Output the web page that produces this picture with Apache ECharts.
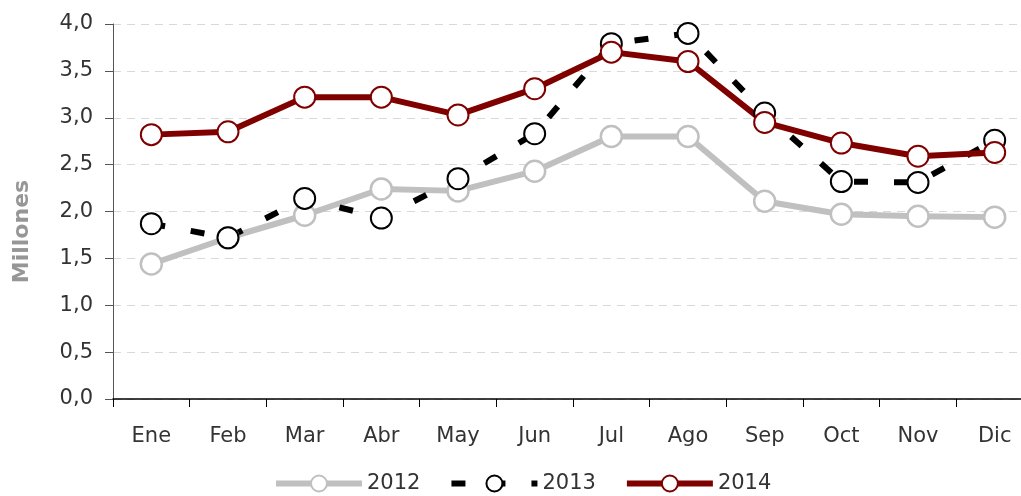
<!DOCTYPE html>
<html>
<head>
<meta charset="utf-8">
<script src="https://cdn.jsdelivr.net/npm/echarts@6/dist/echarts.min.js"></script>
<style>
  html, body { margin: 0; padding: 0; background: #fff; }
  #chart { width: 1021px; height: 496px; }
</style>
</head>
<body>
<div id="chart"></div>
<script>
// months (Spanish)
const months = ["Ene", "Feb", "Mar", "Abr", "May", "Jun", "Jul", "Ago", "Sep", "Oct", "Nov", "Dic"];

// values in millions
const v2012 = [1.44, 1.72, 1.96, 2.24, 2.22, 2.43, 2.80, 2.80, 2.11, 1.97, 1.95, 1.94];
const v2013 = [1.87, 1.72, 2.14, 1.93, 2.35, 2.83, 3.79, 3.90, 3.05, 2.32, 2.31, 2.76];
const v2014 = [2.82, 2.85, 3.22, 3.22, 3.03, 3.31, 3.70, 3.60, 2.95, 2.73, 2.59, 2.63];

const FONT = "DejaVu Sans";

/* ================================
   SERIES HELPER
================================ */
function lineSeries(name, data, color, lineType, border) {
  return {
    name: name,
    type: "line",
    data: data,
    symbol: "circle",
    symbolSize: 21,
    showAllSymbol: true,
    lineStyle: { color: color, width: 6, type: lineType, cap: "butt" },
    itemStyle: { color: "#fff", borderColor: color, borderWidth: border },
    emphasis: { disabled: true },
    animation: false
  };
}

const chart = echarts.init(document.getElementById("chart"));

chart.setOption({
  backgroundColor: "#fff",
  grid: { left: 113, right: -12, top: 24, bottom: 97, containLabel: false, outerBoundsMode: "none" },
  legend: {
    bottom: -3,
    left: 268,
    itemWidth: 86,
    itemHeight: 20,
    itemGap: 28,
    lineStyle: { width: 6 },
    textStyle: { fontFamily: FONT, fontSize: 21, color: "#333" },
    data: ["2012", "2013", "2014"]
  },
  xAxis: {
    type: "category",
    data: months,
    boundaryGap: true,
    axisLine: { lineStyle: { color: "#000", width: 1.5 } },
    axisTick: { show: true, length: 8, alignWithLabel: false, lineStyle: { color: "#000" } },
    axisLabel: { fontFamily: FONT, fontSize: 21, color: "#333", margin: 27 },
    splitLine: { show: false }
  },
  yAxis: {
    type: "value",
    min: 0,
    max: 4,
    interval: 0.5,
    name: "Millones",
    nameLocation: "middle",
    nameGap: 80,
    nameTextStyle: {
      fontFamily: FONT, fontSize: 22, fontWeight: "bold", color: "#969696",
      padding: [0, 40, 0, 0]
    },
    axisLine: { show: true, lineStyle: { color: "#555", width: 1 } },
    axisTick: { show: true, length: 8, lineStyle: { color: "#555" } },
    axisLabel: {
      fontFamily: FONT, fontSize: 21, color: "#333", margin: 20,
      formatter: v => v.toFixed(1).replace(".", ",")
    },
    splitLine: { show: true, lineStyle: { color: "#d9d9d9", type: [8, 6], width: 1 } }
  },
  series: [
    lineSeries("2012", v2012, "#c0c0c0", "solid", 2.5),
    lineSeries("2013", v2013, "#000000", [14, 26], 2),
    lineSeries("2014", v2014, "#800000", "solid", 2)
  ]
});
</script>
</body>
</html>
